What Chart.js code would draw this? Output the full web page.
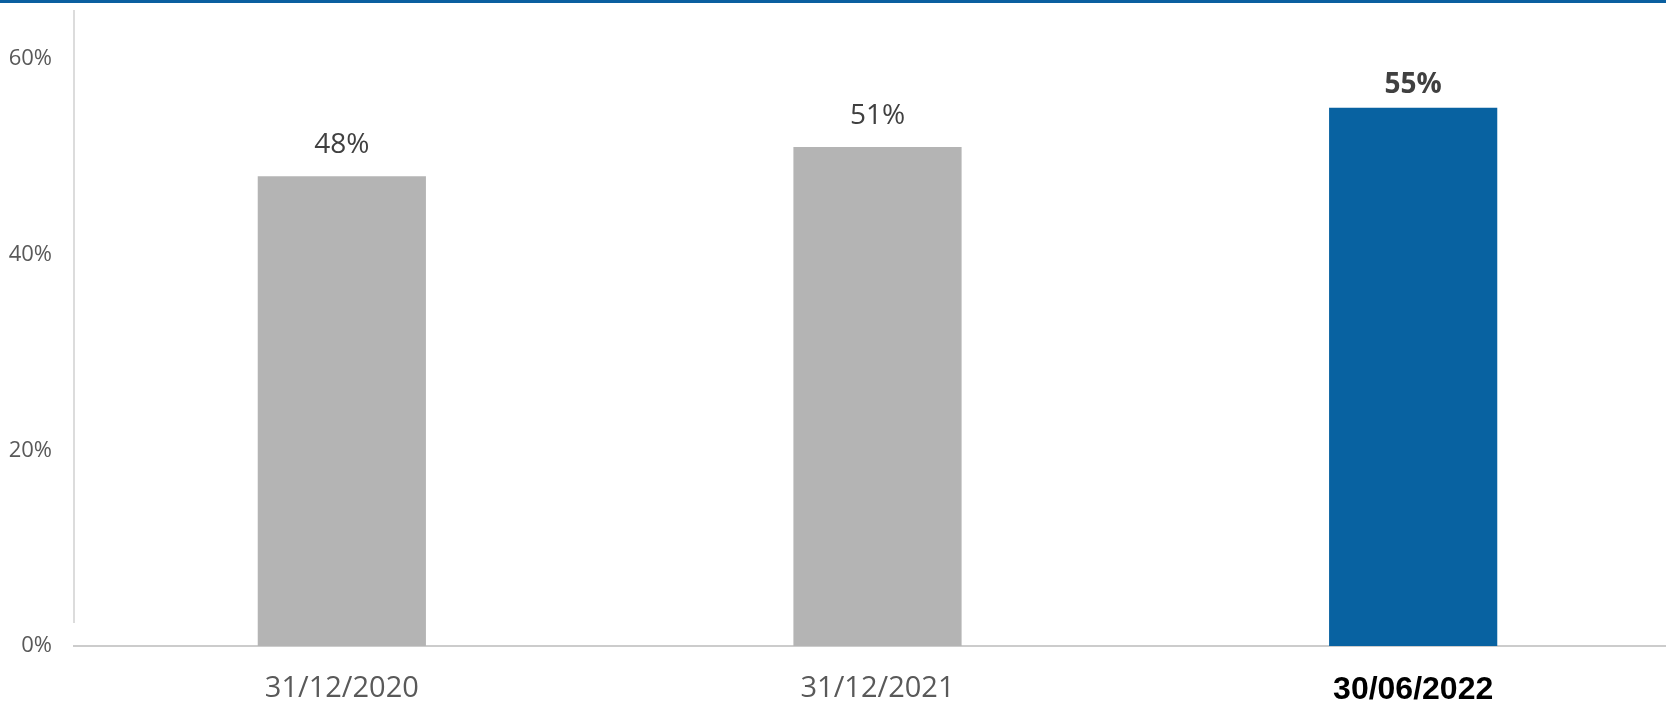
<!DOCTYPE html>
<html>
<head>
<meta charset="utf-8">
<script src="https://cdn.jsdelivr.net/npm/chart.js@4/dist/chart.umd.min.js"></script>
<style>
  html, body { margin: 0; padding: 0; background: #ffffff; overflow: hidden; width: 1666px; height: 704px; }
  #topbar { position: absolute; left: 0; top: 0; width: 1666px; height: 3px; background: #0a5fa0; z-index: 2; }
  #wrap { position: absolute; left: 0; top: 0; width: 1681px; height: 704px; }
</style>
</head>
<body>
<div id="topbar"></div>
<div id="wrap"><canvas id="c" width="1681" height="704"></canvas></div>
<script>
const categories = ["31/12/2020", "31/12/2021", "30/06/2022"];
const values = [48, 51, 55];
const barColors = ["#b4b4b4", "#b4b4b4", "#0862a1"];
const yTickValues = [0, 20, 40, 60];
const highlightIndex = 2;

const labelPlugin = {
  id: 'barLabels',
  afterDatasetsDraw(chart) {
    const ctx = chart.ctx;
    const meta = chart.getDatasetMeta(0);
    meta.data.forEach((el, i) => {
      const bold = i === highlightIndex;
      ctx.save();
      ctx.font = (bold ? 'bold ' : '') + '28px "Open Sans"';
      ctx.fillStyle = '#404040';
      ctx.textAlign = 'center';
      ctx.textBaseline = 'middle';
      ctx.fillText(values[i] + '%', el.x, el.y - (bold ? 23 : 31));
      ctx.restore();
    });
  }
};

const yLinePlugin = {
  id: 'yLine',
  afterDraw(chart) {
    const a = chart.chartArea;
    const ctx = chart.ctx;
    ctx.save();
    ctx.strokeStyle = '#d0d0d0';
    ctx.lineWidth = 1.5;
    ctx.beginPath();
    ctx.moveTo(a.left, a.top);
    ctx.lineTo(a.left, a.bottom - 23);
    ctx.stroke();
    ctx.restore();
  }
};

new Chart(document.getElementById('c'), {
  type: 'bar',
  data: {
    labels: categories,
    datasets: [{
      data: values,
      backgroundColor: barColors,
      borderWidth: 0,
      barPercentage: 0.314,
      categoryPercentage: 1.0
    }]
  },
  options: {
    responsive: false,
    animation: false,
    layout: { padding: { top: 10, left: 0, right: 0, bottom: 0 } },
    plugins: { legend: { display: false }, tooltip: { enabled: false } },
    scales: {
      x: {
        grid: { display: false, drawTicks: false },
        border: { display: true, color: '#cccccc', width: 2 },
        afterFit(scale) { scale.height = 58; scale.paddingLeft = 0; scale.paddingRight = 0; },
        ticks: {
          padding: 25,
          maxRotation: 0,
          color: (c) => c.index === highlightIndex ? '#000000' : '#595959',
          font: (c) => c.index === highlightIndex
            ? { family: '"Liberation Sans", Arial, sans-serif', size: 32, weight: 'bold' }
            : { family: '"Open Sans"', size: 29, weight: 'normal' }
        }
      },
      y: {
        min: 0,
        max: 65,
        grid: { display: false, drawTicks: false },
        border: { display: false },
        afterFit(scale) { scale.width = 74; scale.paddingTop = 0; scale.paddingBottom = 0; },
        afterBuildTicks(scale) { scale.ticks = yTickValues.map(v => ({ value: v })); },
        ticks: {
          padding: 22,
          color: '#595959',
          font: { family: '"Open Sans"', size: 22 },
          callback: (v) => v + '%'
        }
      }
    }
  },
  plugins: [labelPlugin, yLinePlugin]
});
</script>
</body>
</html>
